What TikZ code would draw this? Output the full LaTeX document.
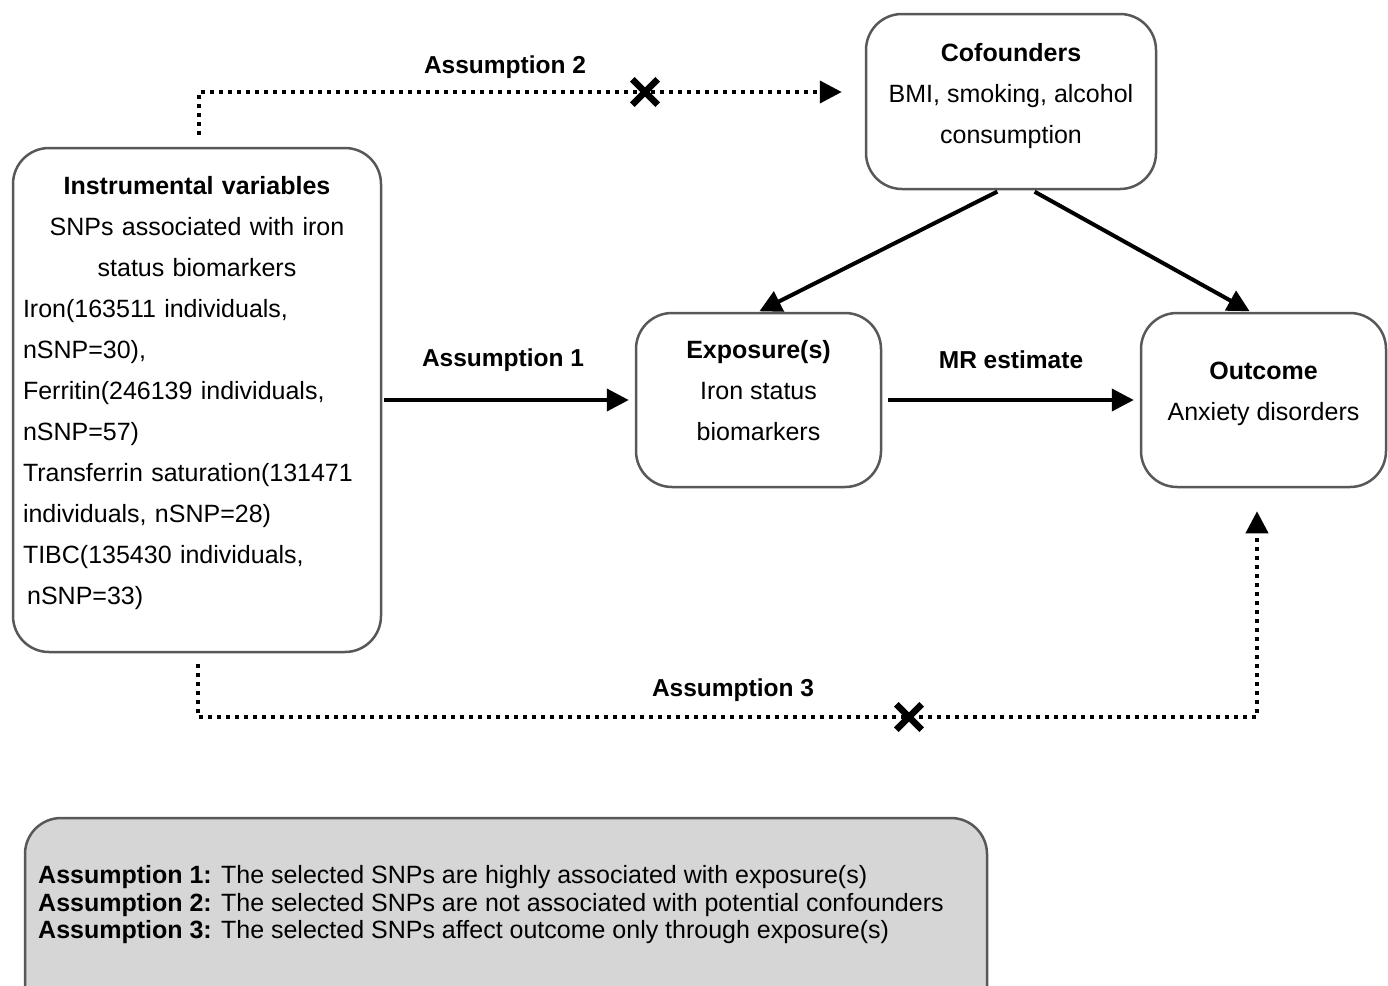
\documentclass[tikz,border=0pt]{standalone}
\usepackage{fontspec}
\setmainfont{Liberation Sans}
\definecolor{edgegray}{RGB}{88,88,88}
\definecolor{notegray}{RGB}{214,214,214}
\usetikzlibrary{positioning, arrows.meta}

\begin{document}
\begin{tikzpicture}[x=1pt, y=-1pt,
  mrbox/.style={draw=edgegray, line width=2.5pt, rounded corners=36pt, fill=white, inner sep=0pt},
  boxtext/.style={font=\fontsize{25}{41}\selectfont, align=center, inner sep=0pt},
  arlabel/.style={font=\fontsize{24.5}{29}\selectfont\bfseries, inner sep=0pt},
  solidarrow/.style={line width=4pt, -{Triangle[length=22pt, width=22pt]}},
  dotarrow/.style={line width=4pt, dash pattern=on 4pt off 5pt, -{Triangle[length=22pt, width=22pt]}},
  crossmark/.style={minimum size=25pt, inner sep=0pt},
]
  \useasboundingbox (0,0) rectangle (1388,985);
  \clip (0,0) rectangle (1388,985);

  % boxes
  \node[mrbox, minimum width=368pt, minimum height=504pt] (iv) at (197,400) {};
  \node[mrbox, minimum width=290pt, minimum height=175pt] (cof) at (1011,101.5) {};
  \node[mrbox, minimum width=245pt, minimum height=174pt] (expo) at (758.5,400) {};
  \node[mrbox, minimum width=245pt, minimum height=174pt] (outc) at (1263.5,400) {};
  \node[mrbox, fill=notegray, minimum width=962pt, minimum height=212pt] (note) at (506,924) {};

  % box texts
  \node[boxtext, text width=348pt, align=left] (ivtext) at (197,393.5) {%
    \makebox[\linewidth]{\textbf{Instrumental variables}}\\
    \makebox[\linewidth]{SNPs associated with iron}\\
    \makebox[\linewidth]{status biomarkers}\\
    Iron(163511 individuals,\\
    nSNP=30),\\
    Ferritin(246139 individuals,\\
    nSNP=57)\\
    Transferrin saturation(131471\\
    individuals, nSNP=28)\\
    TIBC(135430 individuals,\\
    \,nSNP=33)};
  \node[boxtext] (coftext) at (1011,96) {\textbf{Cofounders}\\BMI, smoking, alcohol\\consumption};
  \node[boxtext] (expotext) at (758.5,391) {\textbf{Exposure(s)}\\Iron status\\biomarkers};
  \node[boxtext] (outctext) at (1263.5,393.5) {\textbf{Outcome}\\Anxiety disorders};
  \node[anchor=west, align=left, inner sep=0pt, font=\fontsize{25}{27.5}\selectfont] (notetext) at (38,905) {%
    \textbf{Assumption 1:} The selected SNPs are highly associated with exposure(s)\\
    \textbf{Assumption 2:} The selected SNPs are not associated with potential confounders\\
    \textbf{Assumption 3:} The selected SNPs affect outcome only through exposure(s)};

  % solid connectors
  \draw[solidarrow, shorten <=2pt, shorten >=6pt] (iv.east) -- (expo.west);
  \draw[solidarrow, shorten <=6pt, shorten >=6pt] (expo.east) -- (outc.west);
  \draw[solidarrow, shorten <=3pt, shorten >=1pt] ([xshift=-11pt]cof.south) -- (expo.north);
  \draw[solidarrow, shorten <=3pt, shorten >=1pt] ([xshift=21pt]cof.south) -- ([xshift=-13pt]outc.north);

  % dotted connectors
  \draw[dotarrow, shorten >=23pt] ([xshift=2pt, yshift=12pt]iv.north) |- ([yshift=9.5pt]cof.west);
  \coordinate (a3turn) at (1257,717);
  \draw[dotarrow] ([xshift=1pt, yshift=-11pt]iv.south) |- (a3turn) -- ([xshift=-6.5pt, yshift=-23pt]outc.south);

  % crosses
  \node[crossmark] (x2) at (645,92) {};
  \node[crossmark] (x3) at (909,717) {};
  \foreach \c in {x2, x3} {
    \draw[line width=6.5pt] (\c.north west) -- (\c.south east);
    \draw[line width=6.5pt] (\c.north east) -- (\c.south west);
  }

  % labels
  \node[arlabel] (a2lab) at (505,67) {Assumption 2};
  \node[arlabel] (a1lab) at (503,360) {Assumption 1};
  \node[arlabel] (mrlab) at (1011,360) {MR estimate};
  \node[arlabel] (a3lab) at (733,690) {Assumption 3};
\end{tikzpicture}
\end{document}
